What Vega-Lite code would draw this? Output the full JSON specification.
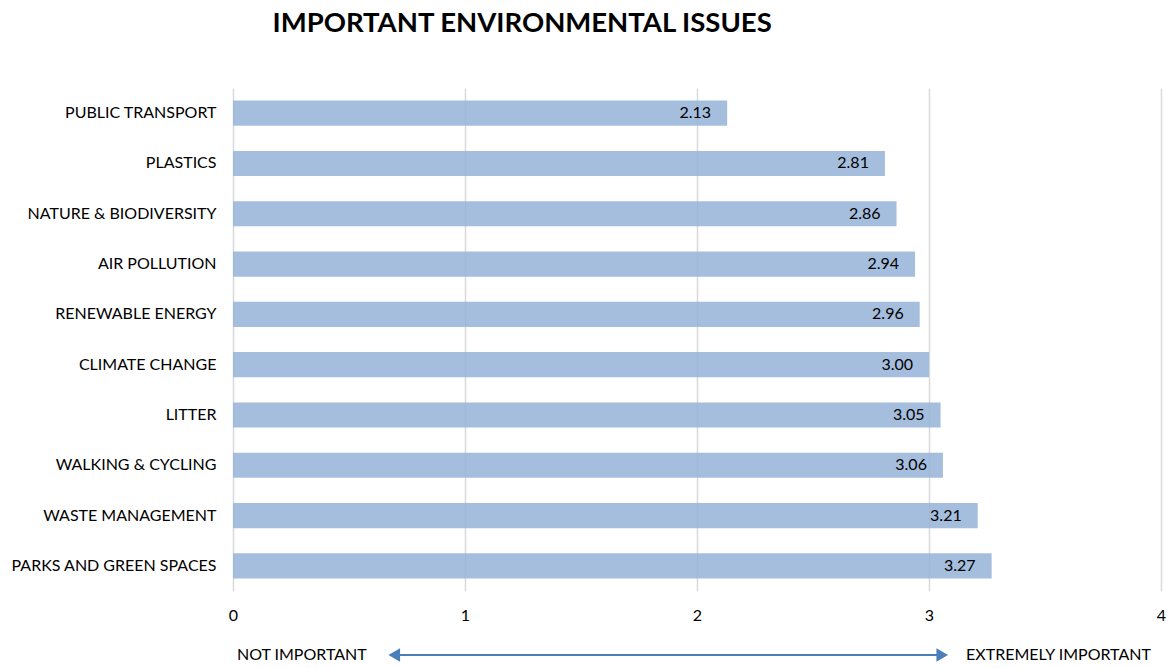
{
  "$schema": "https://vega.github.io/schema/vega-lite/v6.json",
  "background": "white",
  "padding": {"left": 10, "top": 9, "right": 5, "bottom": 0},
  "title": {"text": "IMPORTANT ENVIRONMENTAL ISSUES", "anchor": "start", "dx": 262, "fontSize": 27.5, "fontWeight": "bold", "font": "Lato", "color": "#000000", "offset": 51},
  "spacing": 22,
  "config": {"view": {"stroke": null}, "font": "Lato"},
  "vconcat": [
    {
      "width": 928,
      "height": 503,
      "data": {"values": [
        {"issue": "PUBLIC TRANSPORT", "score": 2.13},
        {"issue": "PLASTICS", "score": 2.81},
        {"issue": "NATURE & BIODIVERSITY", "score": 2.86},
        {"issue": "AIR POLLUTION", "score": 2.94},
        {"issue": "RENEWABLE ENERGY", "score": 2.96},
        {"issue": "CLIMATE CHANGE", "score": 3.00},
        {"issue": "LITTER", "score": 3.05},
        {"issue": "WALKING & CYCLING", "score": 3.06},
        {"issue": "WASTE MANAGEMENT", "score": 3.21},
        {"issue": "PARKS AND GREEN SPACES", "score": 3.27}
      ]},
      "encoding": {
        "y": {"field": "issue", "type": "nominal", "sort": null,
              "scale": {"paddingInner": 0.5, "paddingOuter": 0.25},
              "axis": {"title": null, "ticks": false, "domain": false, "labelFontSize": 16, "labelColor": "#000000", "labelPadding": 17, "labelLimit": 300, "minExtent": 222, "maxExtent": 222, "labelFont": "Lato"}},
        "x": {"field": "score", "type": "quantitative",
              "scale": {"domain": [0, 4], "nice": false},
              "axis": {"title": null, "values": [0, 1, 2, 3, 4], "labelOverlap": false, "labelFlush": false, "grid": true, "gridColor": "#D9D9D9", "gridWidth": 1.5, "domain": false, "ticks": false, "labelFontSize": 16, "labelColor": "#000000", "labelPadding": 16, "labelFont": "Lato"}}
      },
      "layer": [
        {"mark": {"type": "bar", "color": "#95B3D7", "opacity": 0.85}},
        {"mark": {"type": "text", "align": "right", "baseline": "middle", "dx": -16, "fontSize": 16, "color": "#000000", "font": "Lato"},
         "encoding": {"text": {"field": "score", "type": "quantitative", "format": ".2f"}}}
      ]
    },
    {
      "width": 928,
      "height": 20,
      "layer": [
        {
          "data": {"values": [{"x": 0.7, "x2": 3.04}]},
          "mark": {"type": "rule", "color": "#4A7EBB", "strokeWidth": 2},
          "encoding": {"x": {"field": "x", "type": "quantitative", "scale": {"domain": [0, 4], "nice": false}, "axis": null}, "x2": {"field": "x2"}}
        },
        {
          "data": {"values": [{"x": 0.695, "shape": "triangle-left"}, {"x": 3.057, "shape": "triangle-right"}]},
          "mark": {"type": "point", "filled": true, "color": "#4A7EBB", "opacity": 1, "size": 180},
          "encoding": {"x": {"field": "x", "type": "quantitative", "scale": {"domain": [0, 4], "nice": false}, "axis": null},
                       "shape": {"field": "shape", "type": "nominal", "scale": null, "legend": null}}
        },
        {
          "data": {"values": [{"x": 0.017, "label": "NOT IMPORTANT"}, {"x": 3.16, "label": "EXTREMELY IMPORTANT"}]},
          "mark": {"type": "text", "align": "left", "baseline": "middle", "fontSize": 16, "color": "#000000", "font": "Lato"},
          "encoding": {"x": {"field": "x", "type": "quantitative", "scale": {"domain": [0, 4], "nice": false}, "axis": null},
                       "text": {"field": "label"}}
        }
      ]
    }
  ]
}
